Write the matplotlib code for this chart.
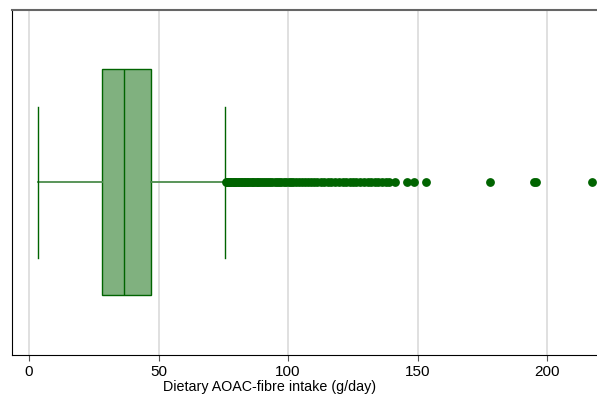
import numpy as np
import matplotlib
matplotlib.use("Agg")
import matplotlib.pyplot as plt

plt.rcParams['font.family'] = ['Liberation Sans', 'DejaVu Sans']

# Box summary (g/day)
q1 = 28.2
med = 36.8
q3 = 47.1
whislo = 3.5
whishi = 75.7

# Outliers beyond upper whisker
fliers = [75.9, 76.3, 76.8, 77.2, 77.7, 78.1, 78.6, 79.0, 79.5, 80.1, 80.6, 81.2,
          81.7, 82.3, 82.9, 83.4, 84.0, 84.7, 85.3, 85.9, 86.6, 87.2, 87.9, 88.6,
          89.3, 90.1, 90.8, 91.6, 92.3, 93.1, 93.9, 94.8, 95.6, 96.5, 97.4, 98.3,
          99.2, 100.2, 101.1, 102.1, 103.2, 104.2, 105.3, 106.4, 107.6, 108.8,
          110.0, 111.3, 112.6, 113.9, 115.3, 116.7, 118.2, 119.6, 121.1, 122.4,
          123.8, 125.0, 126.3, 127.9, 129.4, 130.8, 132.1, 133.5, 134.9, 136.2,
          137.8, 139.0, 141.3, 146.0, 148.8, 153.4, 177.9, 195.0, 195.8, 217.4]

xticks = [0, 50, 100, 150, 200]
xlabel = "Dietary AOAC-fibre intake (g/day)"

dark = "#006400"

fig = plt.figure(figsize=(5.97, 3.94), dpi=100)
ax = fig.add_axes([0.020, 0.099, 0.98, 0.876])

stats = [dict(med=med, q1=q1, q3=q3, whislo=whislo, whishi=whishi, fliers=fliers)]
ax.bxp(stats, positions=[1], widths=0.655, capwidths=0.438, vert=False,
       patch_artist=True,
       boxprops=dict(facecolor="#80b17f", edgecolor=dark, linewidth=1.0),
       medianprops=dict(color=dark, linewidth=1.0),
       whiskerprops=dict(color="#4c8c4c", linewidth=1.3),
       capprops=dict(color=dark, linewidth=1.0),
       flierprops=dict(marker='o', markerfacecolor=dark, markeredgecolor=dark,
                       markersize=5.3, linestyle='none'),
       zorder=3)

ax.set_xlim(-6.6, 219.3)
ax.set_ylim(0.5, 1.5)
ax.set_yticks([])
ax.set_xticks(xticks)
ax.set_xticklabels([str(t) for t in xticks], fontsize=11)
ax.tick_params(axis='x', length=4, color="#555555", pad=3)
ax.set_xlabel(xlabel, fontsize=10.3)
ax.xaxis.set_label_coords(0.44, -0.072)

ax.grid(axis='x', color="#dddddd", linewidth=1.3, zorder=0)
ax.set_axisbelow(True)

ax.spines['right'].set_visible(False)
ax.spines['top'].set_color("#666666")
ax.spines['top'].set_linewidth(1.5)
ax.spines['left'].set_color("black")
ax.spines['bottom'].set_color("black")

plt.savefig("out.png", dpi=100)
